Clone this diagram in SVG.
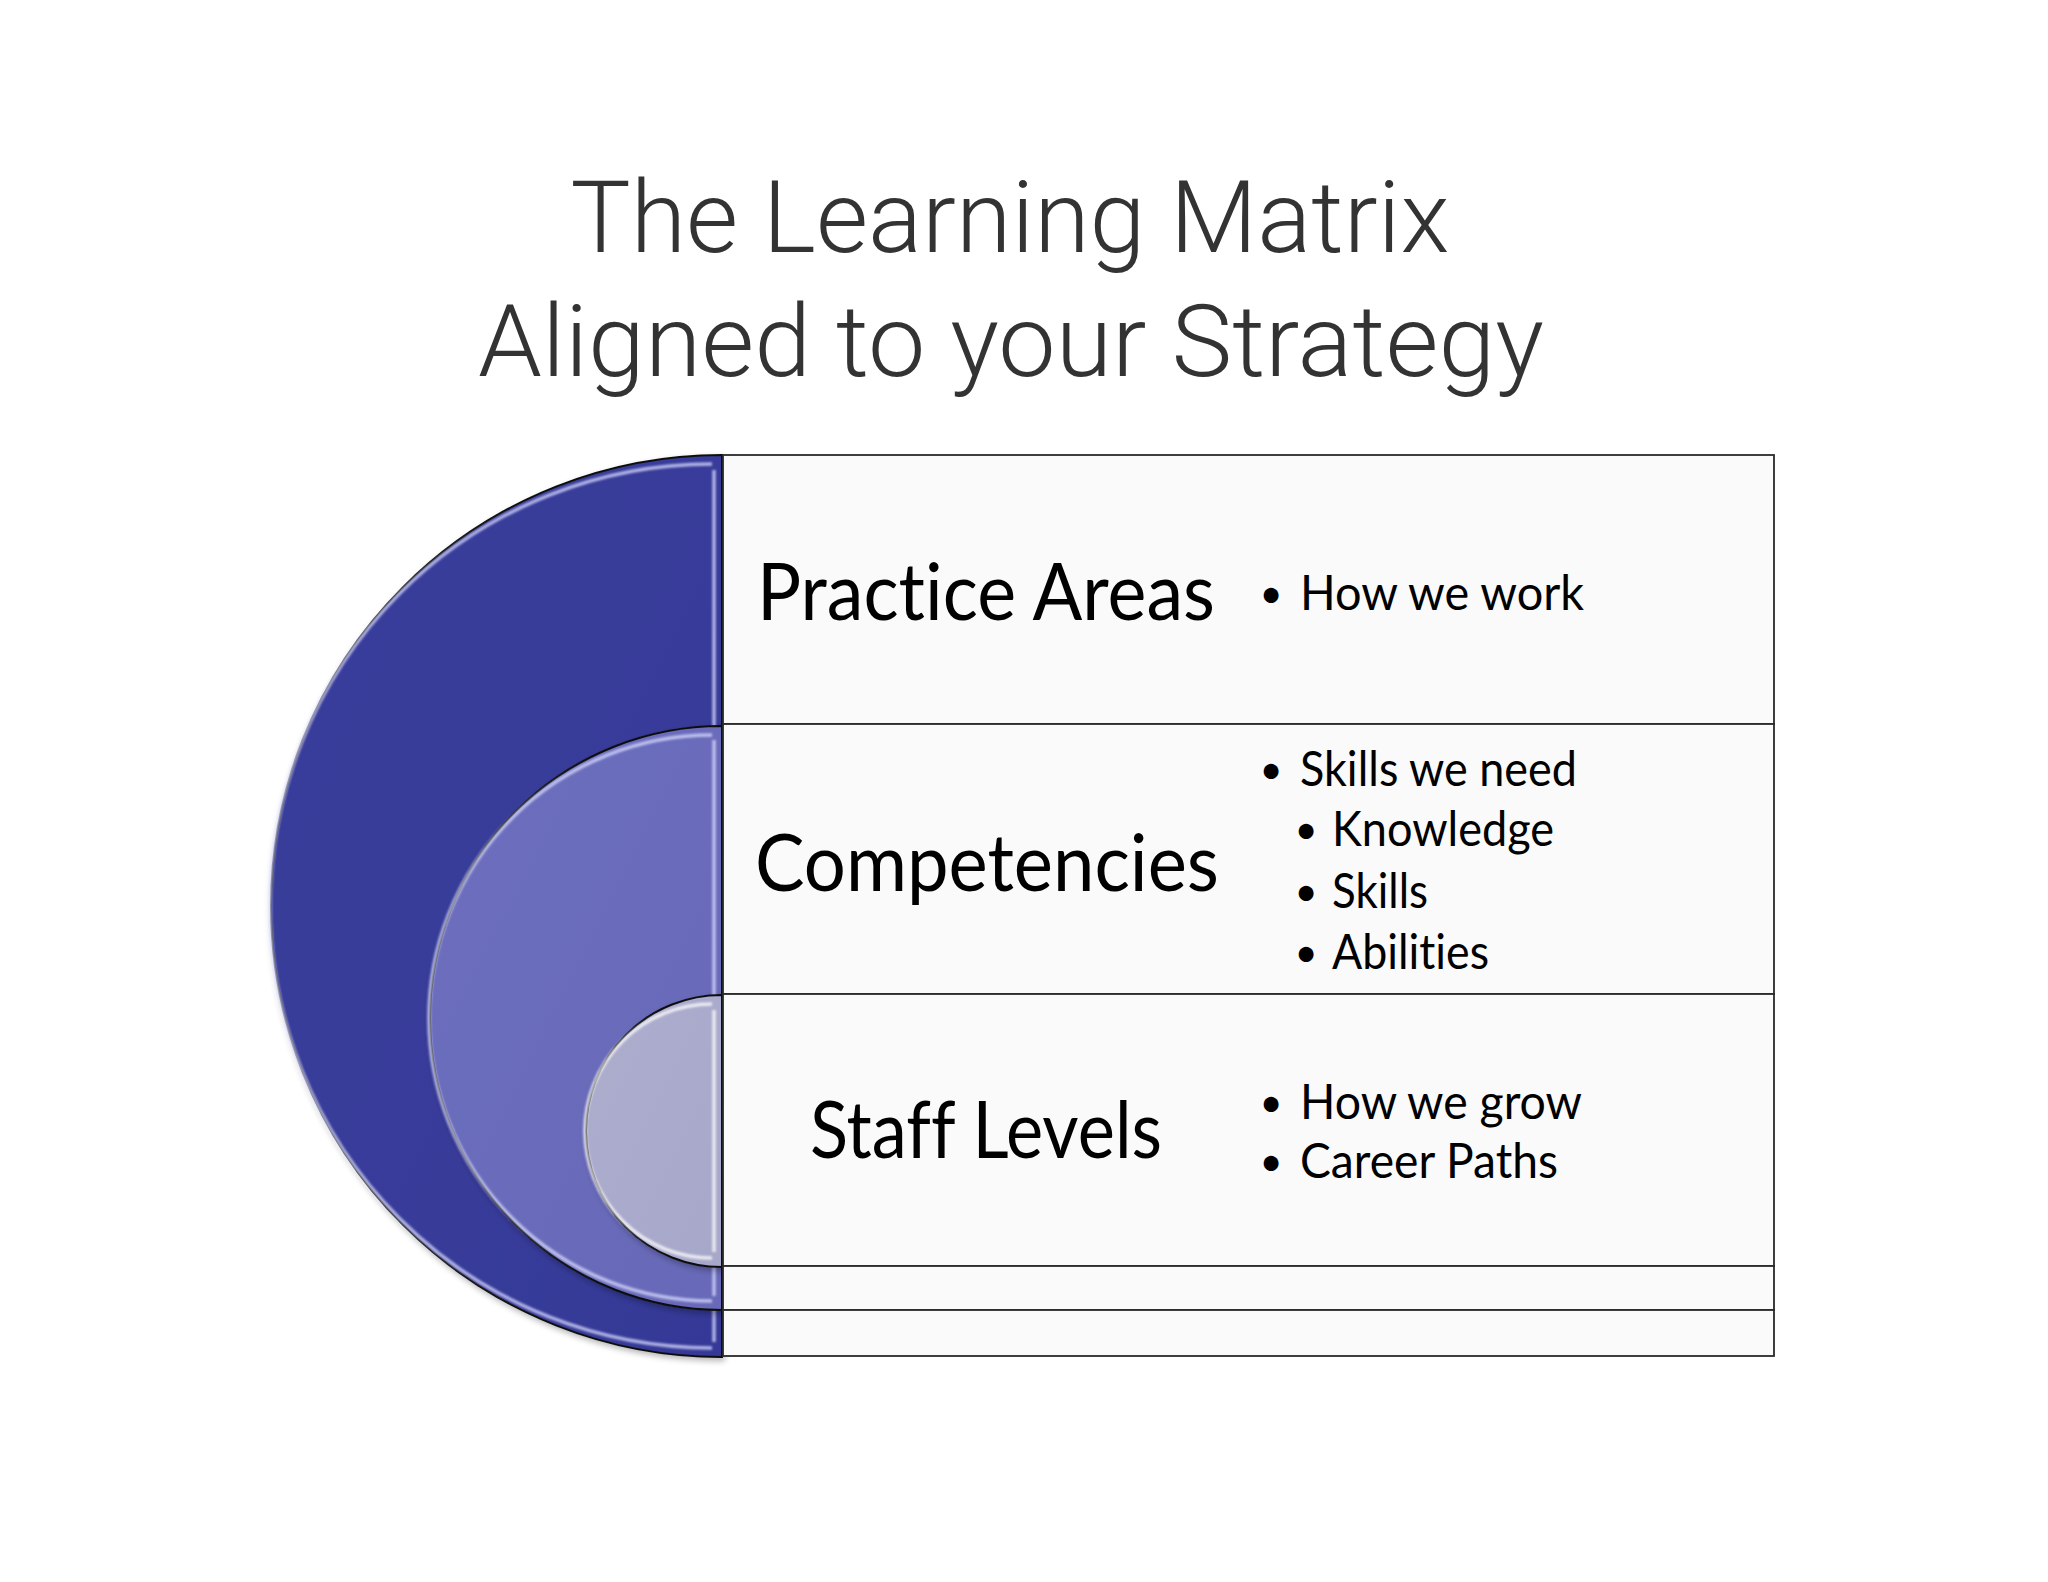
<svg xmlns="http://www.w3.org/2000/svg" width="2048" height="1582" viewBox="0 0 2048 1582">
<defs>
<style>
.title{font-family:Roboto,"Liberation Sans",sans-serif;font-weight:300;font-size:101px;fill:#333333;text-anchor:middle}
.head{font-family:Lato,"Open Sans","Liberation Sans",sans-serif;font-size:80px;fill:#000;font-variant-ligatures:none;font-feature-settings:"liga" 0}
.item{font-family:Lato,"Open Sans","Liberation Sans",sans-serif;font-size:48px;fill:#000;font-variant-ligatures:none;font-feature-settings:"liga" 0}
.bul{font-family:Lato,"Open Sans","Liberation Sans",sans-serif;font-size:40px;fill:#000;text-anchor:middle}
.row{fill:#fafafa;stroke:#2a2a2a;stroke-width:1.8}
.disc{stroke:#111;stroke-width:2}
.hl{fill:none;stroke:#d8dbff;stroke-width:3.5;stroke-opacity:0.75;filter:url(#soft)}
</style>
<filter id="soft" x="-5%" y="-5%" width="110%" height="110%"><feGaussianBlur stdDeviation="1.2"/></filter>
<filter id="shadow" x="-10%" y="-10%" width="120%" height="120%"><feGaussianBlur in="SourceAlpha" stdDeviation="3"/><feOffset dx="2" dy="3"/><feComponentTransfer><feFuncA type="linear" slope="0.3"/></feComponentTransfer><feMerge><feMergeNode/><feMergeNode in="SourceGraphic"/></feMerge></filter>
<linearGradient id="g1" x1="0" y1="0" x2="1" y2="1"><stop offset="0" stop-color="#3a3e9c"/><stop offset="1" stop-color="#353996"/></linearGradient>
<linearGradient id="g2" x1="0" y1="0" x2="1" y2="1"><stop offset="0" stop-color="#6d6fbe"/><stop offset="1" stop-color="#6769b8"/></linearGradient>
<linearGradient id="g3" x1="0" y1="0" x2="1" y2="1"><stop offset="0" stop-color="#adadce"/><stop offset="1" stop-color="#a7a7ca"/></linearGradient>
</defs>
<rect width="2048" height="1582" fill="#ffffff"/>
<g id="title">
<text class="title" x="1010" y="252" textLength="879" lengthAdjust="spacingAndGlyphs">The Learning Matrix</text>
<text class="title" x="1011" y="376" textLength="1066" lengthAdjust="spacingAndGlyphs">Aligned to your Strategy</text>
</g>
<g id="disc-outer" filter="url(#shadow)">
<path class="disc" d="M722,455 A451,451 0 0 0 722,1357 Z" fill="url(#g1)"/>
<path class="hl" d="M712,464 A442,442 0 0 0 712,1348 M714,470 L714,1342"/>
</g>
<g id="disc-middle" filter="url(#shadow)">
<path class="disc" d="M722,726 A292,292 0 0 0 722,1310 Z" fill="url(#g2)"/>
<path class="hl" d="M712,735 A283,283 0 0 0 712,1301 M714,740 L714,1296"/>
</g>
<g id="disc-inner" filter="url(#shadow)">
<path class="disc" d="M722,995 A136,136 0 0 0 722,1267 Z" fill="url(#g3)"/>
<path class="hl" d="M712,1004 A127,127 0 0 0 712,1258 M714,1010 L714,1252" style="stroke:#ffffff"/>
</g>
<g id="row-practice">
<rect class="row" x="723" y="455" width="1051" height="269"/>
<text class="head" x="757" y="620" textLength="458" lengthAdjust="spacingAndGlyphs">Practice Areas</text>
<text class="bul" x="1271" y="608">•</text>
<text class="item" x="1300" y="610" textLength="284" lengthAdjust="spacingAndGlyphs">How we work</text>
</g>
<g id="row-competencies">
<rect class="row" x="723" y="724" width="1051" height="270"/>
<text class="head" x="755" y="891" textLength="464" lengthAdjust="spacingAndGlyphs">Competencies</text>
<text class="bul" x="1271" y="784">•</text>
<text class="item" x="1300" y="786" textLength="277" lengthAdjust="spacingAndGlyphs">Skills we need</text>
<text class="bul" x="1306" y="844">•</text>
<text class="item" x="1332" y="846" textLength="222" lengthAdjust="spacingAndGlyphs">Knowledge</text>
<text class="bul" x="1306" y="906">•</text>
<text class="item" x="1332" y="908" textLength="96" lengthAdjust="spacingAndGlyphs">Skills</text>
<text class="bul" x="1306" y="967">•</text>
<text class="item" x="1332" y="969" textLength="157" lengthAdjust="spacingAndGlyphs">Abilities</text>
</g>
<g id="row-staff">
<rect class="row" x="723" y="994" width="1051" height="272"/>
<text class="head" x="810" y="1158" textLength="352" lengthAdjust="spacingAndGlyphs">Staff Levels</text>
<text class="bul" x="1271" y="1117">•</text>
<text class="item" x="1300" y="1119" textLength="282" lengthAdjust="spacingAndGlyphs">How we grow</text>
<text class="bul" x="1271" y="1176">•</text>
<text class="item" x="1300" y="1178" textLength="258" lengthAdjust="spacingAndGlyphs">Career Paths</text>
</g>
<g id="row-4"><rect class="row" x="723" y="1266" width="1051" height="44"/></g>
<g id="row-5"><rect class="row" x="723" y="1310" width="1051" height="46"/></g>
<g id="connectors"></g>
</svg>
